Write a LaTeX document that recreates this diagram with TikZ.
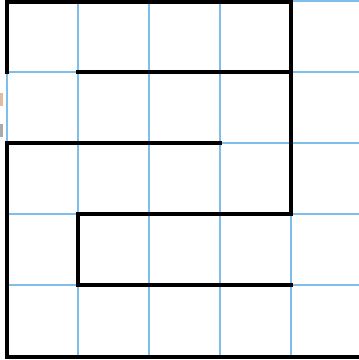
\documentclass[tikz,border=0pt]{standalone}
\definecolor{gridblue}{RGB}{125,190,235}
\definecolor{strayorange}{RGB}{215,160,115}
\definecolor{straygray}{RGB}{170,170,170}
\begin{document}
\begin{tikzpicture}[x=1pt,y=-1pt,
  gridline/.style={draw=gridblue,line width=2pt},
  wall/.style={draw=black,line width=4pt,line cap=rect}]
\useasboundingbox (0,0) rectangle (359,360);
% stray edge pixels
\fill[strayorange,opacity=0.7] (0,93) rectangle (3,106);
\fill[straygray] (0,124) rectangle (3,137);
% grid
\foreach \x in {7,78,149,220,291} \draw[gridline] (\x,0) -- (\x,357);
\foreach \y in {1,72,143,214,285} \draw[gridline] (7,\y) -- (359,\y);
% walls
\coordinate (a1) at (7,72);
\coordinate (a2) at (7,1.5);
\coordinate (a3) at (291,1.5);
\coordinate (a4) at (291,214);
\coordinate (a5) at (78,214);
\coordinate (a6) at (78,285);
\coordinate (a7) at (291,285);
\draw[wall] (a1) -- (a2) -- (a3) -- (a4) -- (a5) -- (a6) -- (a7);
\coordinate (b1) at (78,72);
\coordinate (b2) at (291,72);
\draw[wall] (b1) -- (b2);
\coordinate (c1) at (220,143);
\coordinate (c2) at (7,143);
\coordinate (c3) at (7,357);
\coordinate (c4) at (359,357);
\draw[wall] (c1) -- (c2) -- (c3) -- (c4);
\end{tikzpicture}
\end{document}
